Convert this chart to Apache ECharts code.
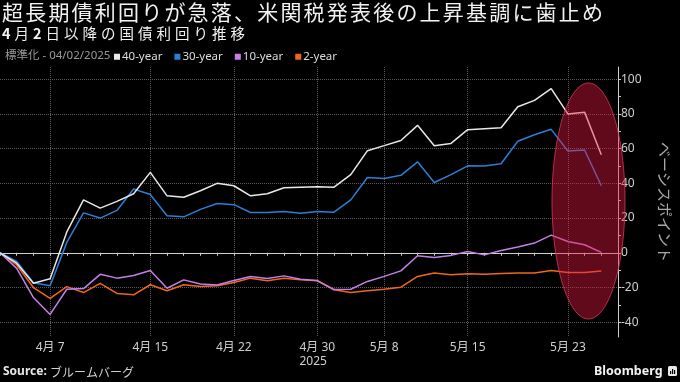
<!DOCTYPE html>
<html><head><meta charset="utf-8">
<script src="https://cdn.jsdelivr.net/npm/echarts@6/dist/echarts.min.js"></script>
<style>html,body{margin:0;padding:0;background:#000}#c{width:680px;height:382px}</style>
</head><body><div id="c"></div>
<script>
// trading days since 2025-04-02 (last entry is an empty slot at the right edge)
const dates = ['04-02','04-03','04-04','04-07','04-08','04-09','04-10','04-11','04-14','04-15',
  '04-16','04-17','04-18','04-21','04-22','04-23','04-24','04-25','04-28','04-30',
  '05-01','05-02','05-07','05-08','05-09','05-12','05-13','05-14','05-15','05-16',
  '05-19','05-20','05-21','05-22','05-23','05-26','05-27','05-28'];
const labeledDates = ['04-07','04-15','04-22','04-30','05-08','05-15','05-23'];
const yearLabelDate = '04-30';
const yearLabel = '2025';
const yTickValues = [-40,-20,0,20,40,60,80,100];
const yMinorTickValues = [-40,-30,-20,-10,0,10,20,30,40,50,60,70,80,90,100];

const seriesNames = ['40-year','30-year','10-year','2-year'];
const y40 = [0,-6,-17.5,-15,12,30.5,25.7,29.6,34,46.3,32.8,32,35.7,40,38.6,32.8,34,37.5,37.8,38,
  37.8,45,58.8,61.7,64.7,73.4,61.7,63,70.9,71.5,72,84.1,87.8,94.5,80,81,56.5];
const y30 = [0,-5,-17.3,-19,6,23,20,24.4,36.7,33.6,21.3,20.7,25,28.4,27.7,23.2,23.2,23.8,22.8,23.8,
  23.4,30.5,43.4,42.8,44.6,52.4,40.5,45,50.1,50,51.3,64.2,68,71.1,58.6,59.2,38.6];
const y10 = [0,-9,-25.8,-35.5,-21,-20.6,-12.4,-14.6,-13.1,-10.2,-20.4,-15.6,-18,-18.6,-16,-13.6,-14.8,-13.3,-15.2,-16,
  -21.2,-21,-16.5,-13.6,-10.4,-1.7,-2.7,-1.5,0.8,-1.2,1.3,3.3,5.6,10.2,6.5,4.6,0.2];
const y2 = [0,-7,-20,-26.2,-19.5,-22.9,-17.6,-23.4,-24.2,-18.4,-21.9,-18.4,-19.4,-19,-17.1,-14.6,-16.1,-14.6,-15.6,-16.1,
  -21.3,-22.9,-21.9,-21,-19.8,-13.6,-11.7,-12.7,-12.1,-12.3,-11.9,-11.7,-11.7,-10.2,-11.3,-11.3,-10.5];
const seriesData = [y40, y30, y10, y2];
const colors = ['#e8e8e8','#2a7fd6','#c47fe8','#f2661c'];

const titleText = '超長期債利回りが急落、米関税発表後の上昇基調に歯止め';
const subtitleText = '4月2日以降の国債利回り推移';

const FONT = '"Noto Sans", "Noto Sans CJK JP", sans-serif';
const CJK = '"Noto Sans CJK JP", "Noto Sans", sans-serif';

// emulate letter spacing with one rich token per character
function spaced(text, boldDigits){
  return text.split('').map(ch => (boldDigits && /[0-9]/.test(ch)) ? '{b|' + ch + '}' : '{n|' + ch + '}').join('');
}

const chart = echarts.init(document.getElementById('c'), null, {renderer:'canvas'});

function fmtDate(v){
  const p = v.split('-');
  return (+p[0]) + '月 ' + (+p[1]);
}

chart.setOption({
  backgroundColor: '#000',
  animation: false,
  textStyle: {fontFamily: FONT},
  grid: {left: 0, right: 51, top: 67, bottom: 45, containLabel: false},
  legend: {
    data: seriesNames,
    left: 114, top: 51, padding: 0,
    icon: 'rect', itemWidth: 6, itemHeight: 6, itemGap: 12,
    textStyle: {color: '#dcdcdc', fontSize: 11.5, fontFamily: FONT, padding: [0,0,0,-3]},
    selectedMode: false
  },
  xAxis: {
    type: 'category',
    data: dates,
    boundaryGap: false,
    axisLine: {show: true, lineStyle: {color: '#cfcfcf', width: 1}},
    axisTick: {show: true, interval: 0, length: 3, lineStyle: {color: '#cfcfcf'}},
    axisLabel: {
      interval: (i, v) => labeledDates.includes(v),
      color: '#cfcfcf', fontSize: 12, margin: 4, lineHeight: 14, fontFamily: FONT,
      formatter: (v) => v === yearLabelDate ? '{a|' + fmtDate(v) + '}\n{y|' + yearLabel + '}' : fmtDate(v),
      rich: {a: {color: '#cfcfcf', fontSize: 12, lineHeight: 14}, y: {color: '#cfcfcf', fontSize: 12, lineHeight: 14, align: 'left'}}
    },
    splitLine: {show: true, interval: (i, v) => labeledDates.includes(v), lineStyle: {color: '#5a5a5a', type: 'dotted', width: 1}}
  },
  yAxis: [{
    type: 'value', position: 'right', min: -48.5, max: 107, splitNumber: 8,
    axisLine: {show: true, lineStyle: {color: '#cfcfcf'}},
    axisTick: {show: true, length: 3, customValues: yTickValues, lineStyle: {color: '#cfcfcf'}},
    axisLabel: {customValues: yTickValues, color: '#cfcfcf', fontSize: 12, margin: 3, fontFamily: FONT},
    splitLine: {show: true, lineStyle: {color: '#5a5a5a', type: 'dotted', width: 1}},
    name: 'ベーシスポイント', nameLocation: 'middle', nameRotate: -90, nameGap: 39,
    nameTextStyle: {color: '#a8a8a8', fontSize: 15, fontFamily: CJK}
  }, {
    type: 'value', position: 'right', min: -48.5, max: 107, splitNumber: 8,
    axisLine: {show: false},
    axisTick: {show: true, length: 3, customValues: yMinorTickValues, lineStyle: {color: '#cfcfcf'}},
    axisLabel: {show: false},
    splitLine: {show: false}
  }],
  series: seriesNames.map((n, k) => ({
    name: n, type: 'line', data: seriesData[k], yAxisIndex: 0,
    symbol: 'none', smooth: false, z: 10 - k,
    lineStyle: {color: colors[k], width: 1.5},
    itemStyle: {color: colors[k]}
  })),
  graphic: [
    {type: 'text', left: 2, top: 2, style: {
      text: spaced(titleText, false),
      rich: {n: {fill: '#f2f2f2', font: '21px ' + CJK, padding: [0, 2.2, 0, 0]}}
    }},
    {type: 'text', left: 2, top: 26, style: {
      text: spaced(subtitleText, true),
      rich: {b: {fill: '#f2f2f2', font: 'bold 14.5px ' + CJK, padding: [0, 4, 0, 0]},
             n: {fill: '#f2f2f2', font: '14.5px ' + CJK, padding: [0, 4, 0, 0]}}
    }},
    {type: 'text', left: 5, top: 50, style: {text: '標準化 - 04/02/2025', fill: '#9a9a9a', font: '11.5px ' + FONT}},
    {type: 'ellipse', z: 100, shape: {cx: 588.5, cy: 201, rx: 36.5, ry: 118},
      style: {fill: 'rgba(232,24,66,0.42)', stroke: 'rgba(225,60,90,0.75)', lineWidth: 1}},
    {type: 'text', left: 3, top: 366, style: {
      text: '{b|Source:} {n|ブルームバーグ}',
      rich: {b: {fill: '#e6e6e6', font: 'bold 12px ' + FONT}, n: {fill: '#d0d0d0', font: '12px ' + CJK}}
    }},
    {type: 'text', left: 594, top: 365, style: {text: 'Bloomberg', fill: '#f2f2f2', font: 'bold 12.5px ' + FONT}},
    {type: 'rect', left: 668, top: 366, shape: {width: 9, height: 10, r: 1.5}, style: {fill: '#e8e8e8'}},
    {type: 'rect', left: 670, top: 371, shape: {width: 1.2, height: 3}, style: {fill: '#000'}},
    {type: 'rect', left: 672, top: 369, shape: {width: 1.2, height: 5}, style: {fill: '#000'}},
    {type: 'rect', left: 674, top: 370, shape: {width: 1.2, height: 4}, style: {fill: '#000'}}
  ]
});
</script></body></html>
